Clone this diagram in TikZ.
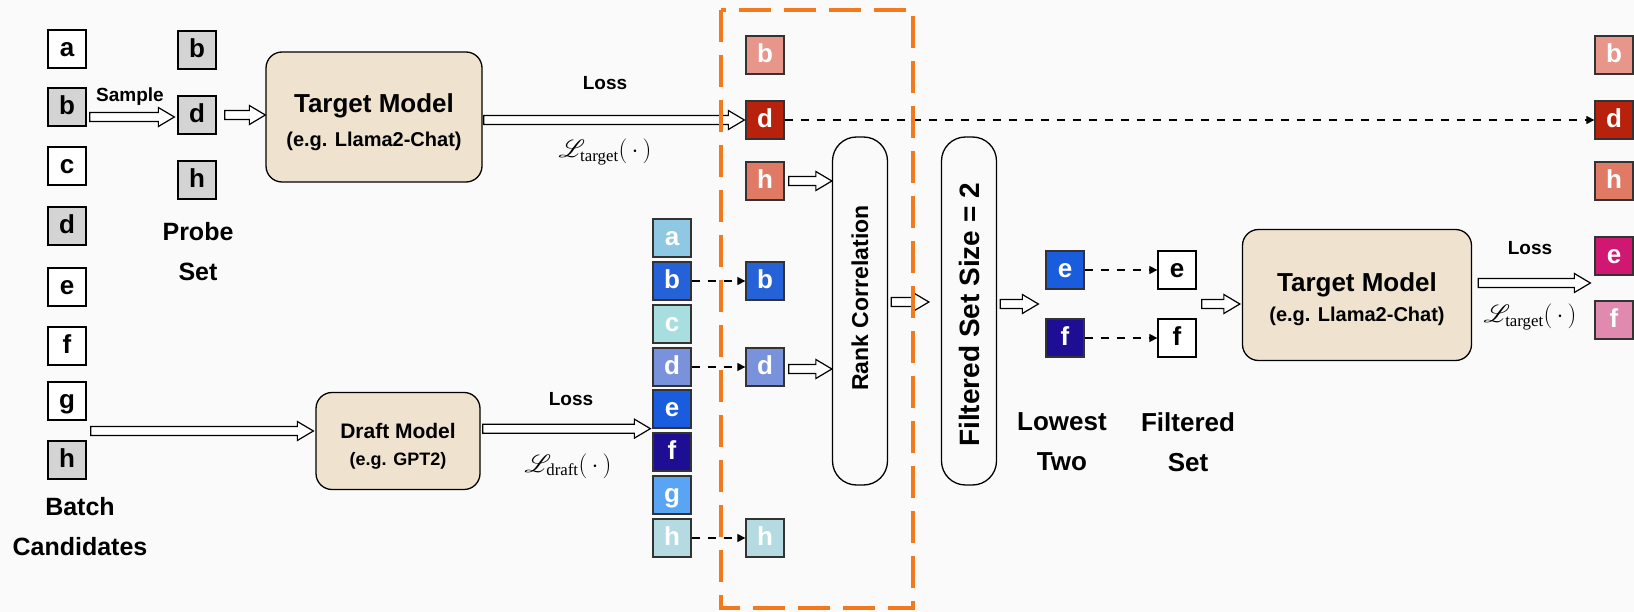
\documentclass[tikz,border=0pt]{standalone}
\usepackage{fontspec}
\setmainfont{Liberation Sans}
\newfontfamily\serifsub{Liberation Serif}
\usepackage{amsmath}
\usepackage{mathrsfs}
\usetikzlibrary{arrows.meta,calc,positioning}
\definecolor{bgc}{HTML}{FAFAFA}
\definecolor{boxgray}{HTML}{D4D4D4}
\definecolor{modelc}{HTML}{EFE3CF}
\definecolor{orng}{HTML}{F27A1C}
% draft losses
\definecolor{da}{HTML}{8EC8E2}
\definecolor{db}{HTML}{2562D8}
\definecolor{dc}{HTML}{A8DEE0}
\definecolor{dd}{HTML}{7A92DC}
\definecolor{de}{HTML}{1A5CDE}
\definecolor{df}{HTML}{1E0E94}
\definecolor{dg}{HTML}{5AA4F4}
\definecolor{dh}{HTML}{B4DAE2}
% target losses
\definecolor{tb}{HTML}{E8958A}
\definecolor{td}{HTML}{B8220C}
\definecolor{th}{HTML}{E07A64}
\definecolor{te}{HTML}{D01872}
\definecolor{tf}{HTML}{E08AB0}
\newcommand{\lossof}[1]{$\mathscr{L}_{\text{\serifsub #1}}(\,\cdot\,)$}
\begin{document}
\begin{tikzpicture}
  [
    x=1pt, y=-1pt,
    box/.style={draw=black, line width=1.3pt, minimum size=38pt, inner sep=0pt,
      text height=19pt, text depth=4pt, font=\fontsize{26}{26}\selectfont\bfseries},
    cbox/.style={box, draw=black!80, text=white},
    model/.style={draw=black, line width=1.3pt, rounded corners=16pt, fill=modelc,
      align=center, inner sep=0pt},
    tall/.style={draw=black, line width=1.3pt, rounded corners=24pt,
      minimum width=55pt, minimum height=348pt, inner sep=0pt},
    txt/.style={font=\fontsize{25}{40}\selectfont\bfseries, align=center},
    small/.style={font=\fontsize{19}{22}\selectfont\bfseries},
    lossmath/.style={font=\fontsize{24}{28}\selectfont},
    hollow/.style={draw=black, fill=white, line width=1.2pt, line join=miter,
      to path={let \p1=(\tikztostart), \p2=(\tikztotarget) in
        (\x1,\y1+4.5pt) -- (\x2-16pt,\y1+4.5pt) -- (\x2-16pt,\y1+9.5pt) -- (\x2,\y1)
        -- (\x2-16pt,\y1-9.5pt) -- (\x2-16pt,\y1-4.5pt) -- (\x1,\y1-4.5pt) -- cycle}},
    copyarrow/.style={line width=1.2pt, dash pattern=on 8pt off 8pt,
      -{Triangle[length=8pt, width=8pt]}}
  ]
  \fill[bgc] (0,0) rectangle (1634,612);
  \useasboundingbox (0,0) rectangle (1634,612);
  % batch candidates
  \foreach \n/\y/\col in {a/49/white,b/107/boxgray,c/166/white,d/226/boxgray,
                          e/287/white,f/346/white,g/401/white,h/460/boxgray} {
      \node [box, fill=\col] (c\n) at (67,\y) {\n};
  }
  \node [txt] (batch) at (80,527) {Batch\\Candidates};
  % probe set
  \foreach \n/\y in {b/50,d/115,h/180} {
      \node [box, fill=boxgray] (p\n) at (197,\y) {\n};
  }
  \node [txt] (probe) at (198,252) {Probe\\Set};
  \node [small] (samp) at (130,97) {Sample};
  % models
  \node [model, minimum width=216pt, minimum height=130pt,
         font=\fontsize{20}{34}\selectfont\bfseries] (tm) at (374,117)
    {{\fontsize{26}{30}\selectfont\rule{0pt}{29pt}Target Model}\\
     {\fontsize{20}{24}\selectfont (e.g. Llama2-Chat)}};
  \node [model, minimum width=164pt, minimum height=97pt,
         font=\fontsize{18}{27}\selectfont\bfseries] (dm) at (398,441)
    {{\fontsize{21}{26}\selectfont\rule{0pt}{25pt}Draft Model}\\
     {\fontsize{18}{22}\selectfont (e.g. GPT2)}};
  \node [model, minimum width=229pt, minimum height=131pt,
         font=\fontsize{20}{30}\selectfont\bfseries] (tm2) at (1357,295)
    {{\fontsize{26}{30}\selectfont\rule{0pt}{27pt}Target Model}\\
     {\fontsize{20}{24}\selectfont (e.g. Llama2-Chat)}};
  % target losses
  \foreach \n/\y in {b/55,d/120,h/181} {
      \node [cbox, fill=t\n] (t\n) at (765,\y) {\n};
  }
  % draft losses
  \foreach \n/\y in {a/238,b/281,c/324,d/367,e/409,f/452,g/495,h/538} {
      \node [cbox, fill=d\n] (d\n) at (672,\y) {\n};
  }
  \foreach \n/\y in {b/281,d/367,h/538} {
      \node [cbox, fill=d\n] (k\n) at (765,\y) {\n};
  }
  % loss labels
  \node [small] (loss1) at (605,83) {Loss};
  \node [lossmath] (lt1) at (605,152) {\lossof{target}};
  \node [small] (loss2) at (571,399) {Loss};
  \node [lossmath] (ld) at (568,466) {\lossof{draft}};
  \node [small] (loss3) at (1530,248) {Loss};
  \node [lossmath] (lt2) at (1530,317) {\lossof{target}};
  % rank and filter
  \node [tall] (rank) at (860,311) {};
  \node [txt, font=\fontsize{23}{26}\selectfont\bfseries, rotate=90] (ranktxt) at (860,298) {Rank Correlation};
  \node [tall] (filt) at (969,311) {};
  \node [txt, font=\fontsize{28}{30}\selectfont\bfseries, rotate=90] (filttxt) at (969,315) {Filtered Set Size = 2};
  % lowest two
  \foreach \n/\y in {e/270,f/338} {
      \node [cbox, fill=d\n] (l\n) at (1065,\y) {\n};
      \node [box, fill=white] (s\n) at (1177,\y) {\n};
      \draw [copyarrow] (l\n) -- (s\n);
  }
  \node [txt, font=\fontsize{26}{40}\selectfont\bfseries] (lowest) at (1062,442) {Lowest\\Two};
  \node [txt, font=\fontsize{26}{40}\selectfont\bfseries] (filtset) at (1188,442) {Filtered\\Set};
  % final losses
  \foreach \n/\y in {b/55,d/120,h/181} {
      \node [cbox, fill=t\n] (r\n) at (1614,\y) {\n};
  }
  \foreach \n/\y in {e/256,f/320} {
      \node [cbox, fill=t\n] (r\n) at (1614,\y) {\n};
  }
  % hollow arrows
  \draw [hollow] ([xshift=3pt,yshift=-2pt]cb.east |- pd.west) to ([xshift=-3pt,yshift=-2pt]pd.west);
  \draw [hollow] ([xshift=8pt]pd.east) to (tm.west |- pd.east);
  \draw [hollow] ([xshift=1pt]tm.east |- td.west) to ([xshift=-1pt]td.west);
  \draw [hollow] ([xshift=4pt,yshift=10pt]dm.west -| cg.east) to ([xshift=-2pt,yshift=10pt]dm.west);
  \draw [hollow] ([xshift=2pt]dm.east |- de.south west) to ([xshift=-2pt]de.south west);
  \draw [hollow] ([xshift=4pt]th.east) to (th.east -| rank.west);
  \draw [hollow] ([xshift=4pt,yshift=-2pt]kd.east) to ([yshift=-2pt]kd.east -| rank.west);
  \draw [hollow] ([xshift=3pt,yshift=9pt]rank.east) to ([xshift=-12pt,yshift=9pt]filt.west);
  \coordinate (lowin) at ($(le.west)!.5!(lf.west)$);
  \coordinate (setout) at ($(se.east)!.5!(sf.east)$);
  \coordinate (lastin) at ($(re.west)!.5!(rf.west)$);
  \draw [hollow] ([xshift=3pt]filt.east |- lowin) to ([xshift=-7pt]lowin);
  \draw [hollow] ([xshift=5pt]setout) to ([xshift=-2pt]setout -| tm2.west);
  \draw [hollow] ([xshift=6pt,yshift=5pt]tm2.east |- lastin) to ([xshift=-4pt,yshift=5pt]lastin);
  % dashed copies
  \draw [copyarrow] (td) -- (rd);
  \foreach \n in {b,d,h} {
      \draw [copyarrow] (d\n) -- (k\n);
  }
  % selected region
  \draw [orng, line width=4pt, dash pattern=on 32pt off 13pt] (721,10) rectangle (913,608);
\end{tikzpicture}
\end{document}
